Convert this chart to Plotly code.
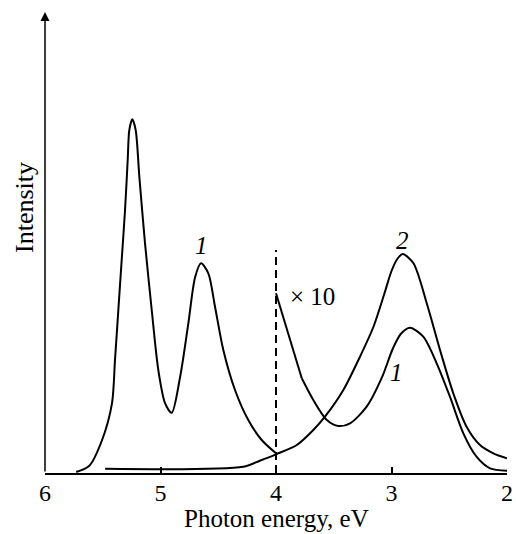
import plotly.graph_objects as go

# Curve 1, UV part (measured scale)
c1a_E = [5.73, 5.616, 5.509, 5.42, 5.394, 5.365, 5.336, 5.307, 5.284, 5.27, 5.244, 5.215, 5.183, 5.134,
         5.076, 5.019, 4.96, 4.903, 4.83, 4.759, 4.70, 4.649, 4.586, 4.528, 4.456, 4.355, 4.24, 4.124, 4.0]
c1a_I = [1, 7.3, 32, 69.7, 113, 163, 213, 263, 313, 343, 353.7, 343, 296, 229.7,
         163, 103, 69.7, 60.3, 96.3, 149.7, 196, 209.7, 199.7, 166.3, 123, 83, 53, 33, 19.7]

# Curve 1, visible part (x10)
c1b_E = [4.0, 3.879, 3.777, 3.677, 3.56, 3.46, 3.359, 3.215, 3.08, 2.99, 2.92, 2.84, 2.725, 2.609,
         2.494, 2.378, 2.264, 2.147, 2.0]
c1b_I = [179.7, 133, 94.7, 73, 53, 47, 49.7, 66.3, 96.3, 124, 139, 145.3, 136.3, 109.7,
         76.3, 39.7, 16.3, 4.7, 2.3]

# Curve 2
c2_E = [5.48, 4.283, 4.14, 4.0, 3.82, 3.677, 3.576, 3.417, 3.273, 3.157, 3.06, 3.0, 2.95, 2.903, 2.81,
        2.695, 2.58, 2.465, 2.35, 2.234, 2.118, 2.0]
c2_I = [4.3, 6.3, 12.3, 18.7, 28, 43, 56.3, 83, 116.3, 146, 180, 202, 214, 219, 209.7,
        169.7, 123, 79.7, 46.3, 28, 19.7, 14.7]

x_ticks = [6, 5, 4, 3, 2]
divider_E = 4.0
divider_top = 223

FONT = "Liberation Serif"
line = dict(color="black", width=2, shape="spline", smoothing=0.8)

fig = go.Figure()
fig.add_trace(go.Scatter(x=c1a_E, y=c1a_I, mode="lines", line=line, hoverinfo="skip"))
fig.add_trace(go.Scatter(x=c1b_E[:3], y=c1b_I[:3], mode="lines", line=dict(color="black", width=2), hoverinfo="skip"))
fig.add_trace(go.Scatter(x=c1b_E[2:], y=c1b_I[2:], mode="lines", line=line, hoverinfo="skip"))
fig.add_trace(go.Scatter(x=c2_E, y=c2_I, mode="lines", line=line, hoverinfo="skip"))
fig.add_trace(go.Scatter(x=[divider_E, divider_E], y=[0, divider_top], mode="lines",
                         line=dict(color="black", width=2, dash="8px,5px"), hoverinfo="skip"))

ann_font = dict(family=FONT, size=25, color="black")
fig.add_annotation(x=4.649, y=228, text="<i>1</i>", showarrow=False, font=ann_font)
fig.add_annotation(x=3.896, y=177, text="× 10", showarrow=False, font=ann_font, xanchor="left")
fig.add_annotation(x=2.903, y=233, text="<i>2</i>", showarrow=False, font=ann_font)
fig.add_annotation(x=2.955, y=101, text="<i>1</i>", showarrow=False, font=ann_font)

# y-axis arrow
fig.add_annotation(x=6, y=461, ax=6, ay=0, xref="x", yref="y", axref="x", ayref="y",
                   showarrow=True, arrowhead=2, arrowsize=1.2, arrowwidth=1.5, arrowcolor="black", text="")
fig.add_annotation(x=(24 - 45) / 462, y=265, xref="paper", yref="y", text="Intensity",
                   xanchor="center", yanchor="middle",
                   textangle=-90, showarrow=False, font=dict(family=FONT, size=26, color="black"))
# x-axis title
fig.add_annotation(x=0.5, xref="paper", y=-(518 - 473) / 461, yref="paper", text="Photon energy, eV",
                   xanchor="center", yanchor="middle", showarrow=False,
                   font=dict(family=FONT, size=25, color="black"))

fig.update_layout(
    width=516, height=534,
    margin=dict(l=45, r=9, t=12, b=61),
    paper_bgcolor="white", plot_bgcolor="white",
    showlegend=False,
    font=dict(family=FONT, size=24, color="black"),
    xaxis=dict(range=[6, 2], tickvals=x_ticks, ticks="inside", ticklen=6, tickwidth=1.5,
               tickcolor="black", showline=True, linecolor="black", linewidth=1.5,
               showgrid=False, zeroline=False, automargin=False, ticklabelstandoff=-3,
               tickfont=dict(family=FONT, size=24)),
    yaxis=dict(range=[0, 461], showticklabels=False, ticks="", showgrid=False, zeroline=False,
               showline=False, automargin=False),
)

fig.write_html("out.html")
